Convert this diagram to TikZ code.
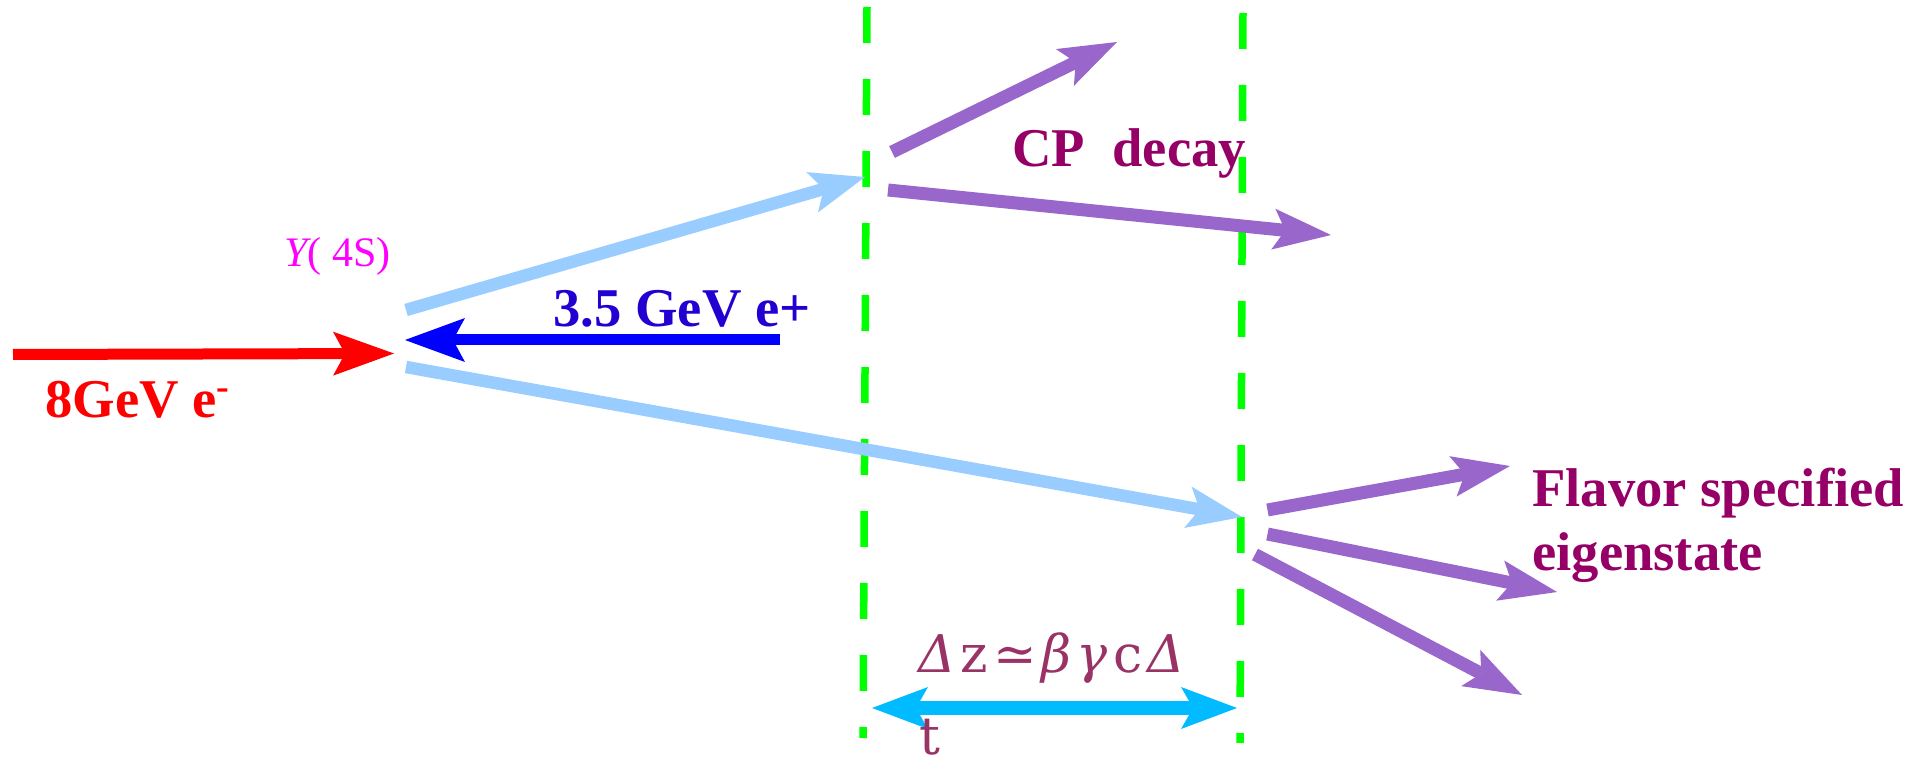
\documentclass[tikz,border=0pt]{standalone}
\usepackage[no-math]{fontspec}
\setmainfont{Liberation Serif}
\newfontfamily\dvserif{DejaVu Serif}
\usetikzlibrary{arrows.meta}
\definecolor{eRed}{RGB}{255,0,0}
\definecolor{eBlue}{RGB}{0,0,255}
\definecolor{eBlueText}{RGB}{34,0,210}
\definecolor{ups}{RGB}{255,0,255}
\definecolor{lightB}{RGB}{153,204,255}
\definecolor{purpA}{RGB}{153,102,204}
\definecolor{purpT}{RGB}{150,0,102}
\definecolor{dashG}{RGB}{0,255,0}
\definecolor{cyanA}{RGB}{0,187,255}
\definecolor{dzT}{RGB}{153,51,102}
\newcommand{\gsp}{\hspace{2.5pt}}
\begin{document}
\begin{tikzpicture}[x=0.5pt,y=-0.5pt,
  redarrow/.style={draw=eRed,line width=5.5pt,-{Stealth[length=30.5pt,width=22pt,inset=6pt,line width=0pt]}},
  bluearrow/.style={draw=eBlue,line width=5.5pt,-{Stealth[length=30pt,width=22pt,inset=6pt,line width=0pt]}},
  lbarrow/.style={draw=lightB,line width=6.25pt,-{Stealth[length=27.5pt,width=21pt,inset=6pt,line width=0pt]}},
  parrow/.style={draw=purpA,line width=6.5pt,-{Stealth[length=29pt,width=20.5pt,inset=6pt,line width=0pt]}},
  dzarrow/.style={draw=cyanA,line width=7.25pt,{Stealth[length=28pt,width=21pt,inset=6pt,line width=0pt]}-{Stealth[length=28pt,width=21pt,inset=6pt,line width=0pt]}},
  gline/.style={draw=dashG,line width=3.75pt,dash pattern=on 18pt off 18pt},
  bigbold/.style={inner sep=0pt,anchor=base west,font=\fontsize{27.3}{32}\selectfont\bfseries},
  lbl/.style={inner sep=0pt,anchor=base west}]
\useasboundingbox (0,0) rectangle (1919,759);
% vertical dashed lines
\coordinate (g1top) at (867,7);  \coordinate (g1bot) at (863,738);
\coordinate (g2top) at (1243,13); \coordinate (g2bot) at (1240,743);
\draw[gline] (g1top) -- (g1bot);
\draw[gline] (g2top) -- (g2bot);
% beams
\coordinate (eminusStart) at (13,354.5); \coordinate (eminusTip) at (394,353.5);
\coordinate (eplusStart) at (780,340);   \coordinate (eplusTip) at (405,340);
\draw[redarrow] (eminusStart) -- (eminusTip);
\draw[bluearrow] (eplusStart) -- (eplusTip);
% B mesons
\coordinate (b1s) at (406,310); \coordinate (b1t) at (865,177);
\coordinate (b2s) at (406,367); \coordinate (b2t) at (1242,517);
\draw[lbarrow] (b1s) -- (b1t);
\draw[lbarrow] (b2s) -- (b2t);
% CP decay products
\coordinate (c1s) at (892,152); \coordinate (c1t) at (1117,42);
\coordinate (c2s) at (888,190); \coordinate (c2t) at (1331,235);
\draw[parrow] (c1s) -- (c1t);
\draw[parrow] (c2s) -- (c2t);
% flavor decay products
\coordinate (f1s) at (1267.5,510); \coordinate (f1t) at (1510,466);
\coordinate (f2s) at (1267.5,534); \coordinate (f2t) at (1557,592);
\coordinate (f3s) at (1255,554.5); \coordinate (f3t) at (1522,695);
\draw[parrow] (f1s) -- (f1t);
\draw[parrow] (f2s) -- (f2t);
\draw[parrow] (f3s) -- (f3t);
% delta z
\coordinate (dzl) at (872,708); \coordinate (dzr) at (1237,708);
\draw[dzarrow] (dzl) -- (dzr);
% labels
\node[bigbold,text=eRed] (lem) at (45,418) {8GeV e\textsuperscript{-}};
\node[bigbold,text=eBlueText] (lep) at (553,327) {3.5 GeV e+};
\node[lbl,text=ups,font=\fontsize{21}{25}\selectfont] (lups) at (284,267) {{\itshape Υ}( 4S)};
\node[bigbold,text=purpT] (lcp) at (1012,167) {CP\ \ decay};
\node[bigbold,text=purpT] (lfl1) at (1532,507) {Flavor specified};
\node[bigbold,text=purpT] (lfl2) at (1532,570) {eigenstate};
\node[lbl,text=dzT,font=\dvserif\fontsize{26}{32}\selectfont] (ldz) at (918,672) {{\itshape Δ}\gsp z\gsp ≃\gsp{\itshape β}\gsp{\itshape γ}\gsp c\gsp{\itshape Δ}};
\node[lbl,text=dzT,font=\dvserif\fontsize{26}{32}\selectfont] (lt) at (919,754) {t};
\end{tikzpicture}
\end{document}
